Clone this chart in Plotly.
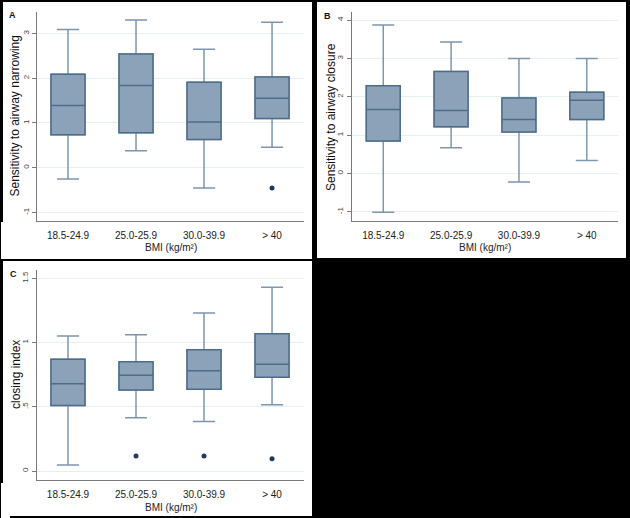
import plotly.graph_objects as go

W, H = 630, 518

categories = ["18.5-24.9", "25.0-25.9", "30.0-39.9", "> 40"]

# Panel A: Sensitivity to airway narrowing
a_low = [-0.25, 0.38, -0.45, 0.46]
a_q1 = [0.74, 0.78, 0.63, 1.10]
a_med = [1.39, 1.84, 1.02, 1.55]
a_q3 = [2.09, 2.54, 1.91, 2.03]
a_high = [3.09, 3.30, 2.65, 3.25]
a_out_x = [3]
a_out_y = [-0.45]

# Panel B: Sensitivity to airway closure
b_low = [-1.01, 0.67, -0.22, 0.34]
b_q1 = [0.85, 1.22, 1.08, 1.41]
b_med = [1.67, 1.64, 1.41, 1.91]
b_q3 = [2.29, 2.66, 1.97, 2.12]
b_high = [3.87, 3.43, 3.00, 3.00]

# Panel C: closing index
c_low = [0.047, 0.414, 0.386, 0.516]
c_q1 = [0.51, 0.63, 0.636, 0.73]
c_med = [0.68, 0.746, 0.78, 0.832]
c_q3 = [0.87, 0.85, 0.945, 1.068]
c_high = [1.052, 1.06, 1.23, 1.43]
c_out_x = [1, 2, 3]
c_out_y = [0.117, 0.117, 0.096]

a_ticks = [-1, 0, 1, 2, 3]
a_ticktext = ["-1", "0", "1", "2", "3"]
b_ticks = [-1, 0, 1, 2, 3, 4]
b_ticktext = ["-1", "0", "1", "2", "3", "4"]
c_ticks = [0, 0.5, 1, 1.5]
c_ticktext = ["0", ".5", "1", "1.5"]

FILL = "#8ca2b8"
EDGE = "#4d6c8b"
WHISK = "#7d97b0"
OUT = "#1c3b5e"
GRID = "#e6eff1"
AXIS = "#7a7a7a"

def px(x):
    return x / W

def py(y):
    return 1 - y / H

fig = go.Figure()
xs = list(range(len(categories)))

def add_panel(ax, low, q1, med, q3, high, out_x=None, out_y=None):
    xa = "x" if ax == 1 else f"x{ax}"
    ya = "y" if ax == 1 else f"y{ax}"
    # whiskers + box (light line)
    fig.add_trace(go.Box(
        x=xs, q1=q1, median=med, q3=q3, lowerfence=low, upperfence=high,
        width=0.5, whiskerwidth=0.65, fillcolor=FILL,
        line=dict(color=WHISK, width=1.5), boxpoints=False,
        xaxis=xa, yaxis=ya, showlegend=False, hoverinfo="skip"))
    # box overlay (dark edges and median)
    fig.add_trace(go.Box(
        x=xs, q1=q1, median=med, q3=q3, lowerfence=q1, upperfence=q3,
        width=0.5, whiskerwidth=0, fillcolor=FILL,
        line=dict(color=EDGE, width=1.5), boxpoints=False,
        xaxis=xa, yaxis=ya, showlegend=False, hoverinfo="skip"))
    if out_x:
        fig.add_trace(go.Scatter(
            x=out_x, y=out_y, mode="markers",
            marker=dict(color=OUT, size=5),
            xaxis=xa, yaxis=ya, showlegend=False, hoverinfo="skip"))

add_panel(1, a_low, a_q1, a_med, a_q3, a_high, a_out_x, a_out_y)
add_panel(2, b_low, b_q1, b_med, b_q3, b_high)
add_panel(3, c_low, c_q1, c_med, c_q3, c_high, c_out_x, c_out_y)

tickfont_x = dict(family="Liberation Sans Narrow, Arial Narrow, Liberation Sans", size=10, color="#222")
tickfont_y = dict(family="Liberation Sans, Arial", size=8, color="#444")

def xaxis_cfg(domain, rng):
    return dict(domain=domain, range=rng, tickmode="array", tickvals=xs,
                ticktext=categories, showgrid=False, zeroline=False,
                showline=True, linecolor=AXIS, linewidth=1.2, ticks="",
                tickfont=tickfont_x, ticklabelstandoff=5, fixedrange=True)

def yaxis_cfg(domain, rng, tv, tt, anchor):
    return dict(domain=domain, range=rng, tickmode="array", tickvals=tv,
                ticktext=tt, tickangle=-90, showgrid=True, gridcolor=GRID,
                gridwidth=1, zeroline=False, showline=True, linecolor=AXIS,
                linewidth=1.2, ticks="outside", ticklen=4, tickcolor=AXIS,
                tickfont=tickfont_y, anchor=anchor, fixedrange=True)

fig.update_layout(
    width=W, height=H,
    margin=dict(l=0, r=0, t=0, b=0),
    paper_bgcolor="black", plot_bgcolor="white",
    boxmode="overlay",
    xaxis=dict(**xaxis_cfg([px(37), px(304)], [-0.456, 3.47]), anchor="y"),
    yaxis=yaxis_cfg([py(221), py(12)], [-1.19, 3.48], a_ticks, a_ticktext, "x"),
    xaxis2=dict(**xaxis_cfg([px(351.7), px(618)], [-0.465, 3.46]), anchor="y2"),
    yaxis2=yaxis_cfg([py(220.7), py(12)], [-1.23, 4.21], b_ticks, b_ticktext, "x2"),
    xaxis3=dict(**xaxis_cfg([px(36.7), px(304)], [-0.46, 3.47]), anchor="y3"),
    yaxis3=yaxis_cfg([py(480), py(270)], [-0.07, 1.565], c_ticks, c_ticktext, "x3"),
)

# white panels
panels = [(3, 2, 312, 259), (317, 2, 626, 258), (3, 261, 312, 516),
          (1, 222, 10, 259), (1, 483, 10, 518)]
for x0, y0, x1, y1 in panels:
    fig.add_shape(type="rect", xref="paper", yref="paper",
                  x0=px(x0), x1=px(x1), y0=py(y1), y1=py(y0),
                  fillcolor="white", line=dict(width=0), layer="below")

title_font = dict(family="Liberation Sans, Arial", size=12, color="#111")
xt_font = dict(family="Liberation Sans Narrow, Arial Narrow, Liberation Sans", size=10, color="#222")
letter_font = dict(family="Liberation Sans, Arial", size=9, color="#111")

annos = [
    dict(text="Sensitivity to airway narrowing", x=px(15), y=py(116.5), textangle=-90, font=title_font),
    dict(text="Sensitivity to airway closure", x=px(331), y=py(117), textangle=-90, font=title_font),
    dict(text="closing index", x=px(16), y=py(375), textangle=-90, font=title_font),
    dict(text="BMI (kg/m²)", x=px(170.5), y=py(248), font=xt_font),
    dict(text="BMI (kg/m²)", x=px(485), y=py(248), font=xt_font),
    dict(text="BMI (kg/m²)", x=px(170.5), y=py(507), font=xt_font),
    dict(text="<b>A</b>", x=px(12.5), y=py(15), font=letter_font),
    dict(text="<b>B</b>", x=px(327), y=py(16), font=letter_font),
    dict(text="<b>C</b>", x=px(13.5), y=py(274), font=letter_font),
]
for a in annos:
    fig.add_annotation(xref="paper", yref="paper", showarrow=False,
                       xanchor="center", yanchor="middle", **a)

fig.write_html(
    "out.html",
    config={"displayModeBar": False, "staticPlot": True},
    post_script="document.body.style.margin='0';document.body.style.padding='0';"
                "document.body.style.background='black';document.body.style.overflow='hidden';",
)
